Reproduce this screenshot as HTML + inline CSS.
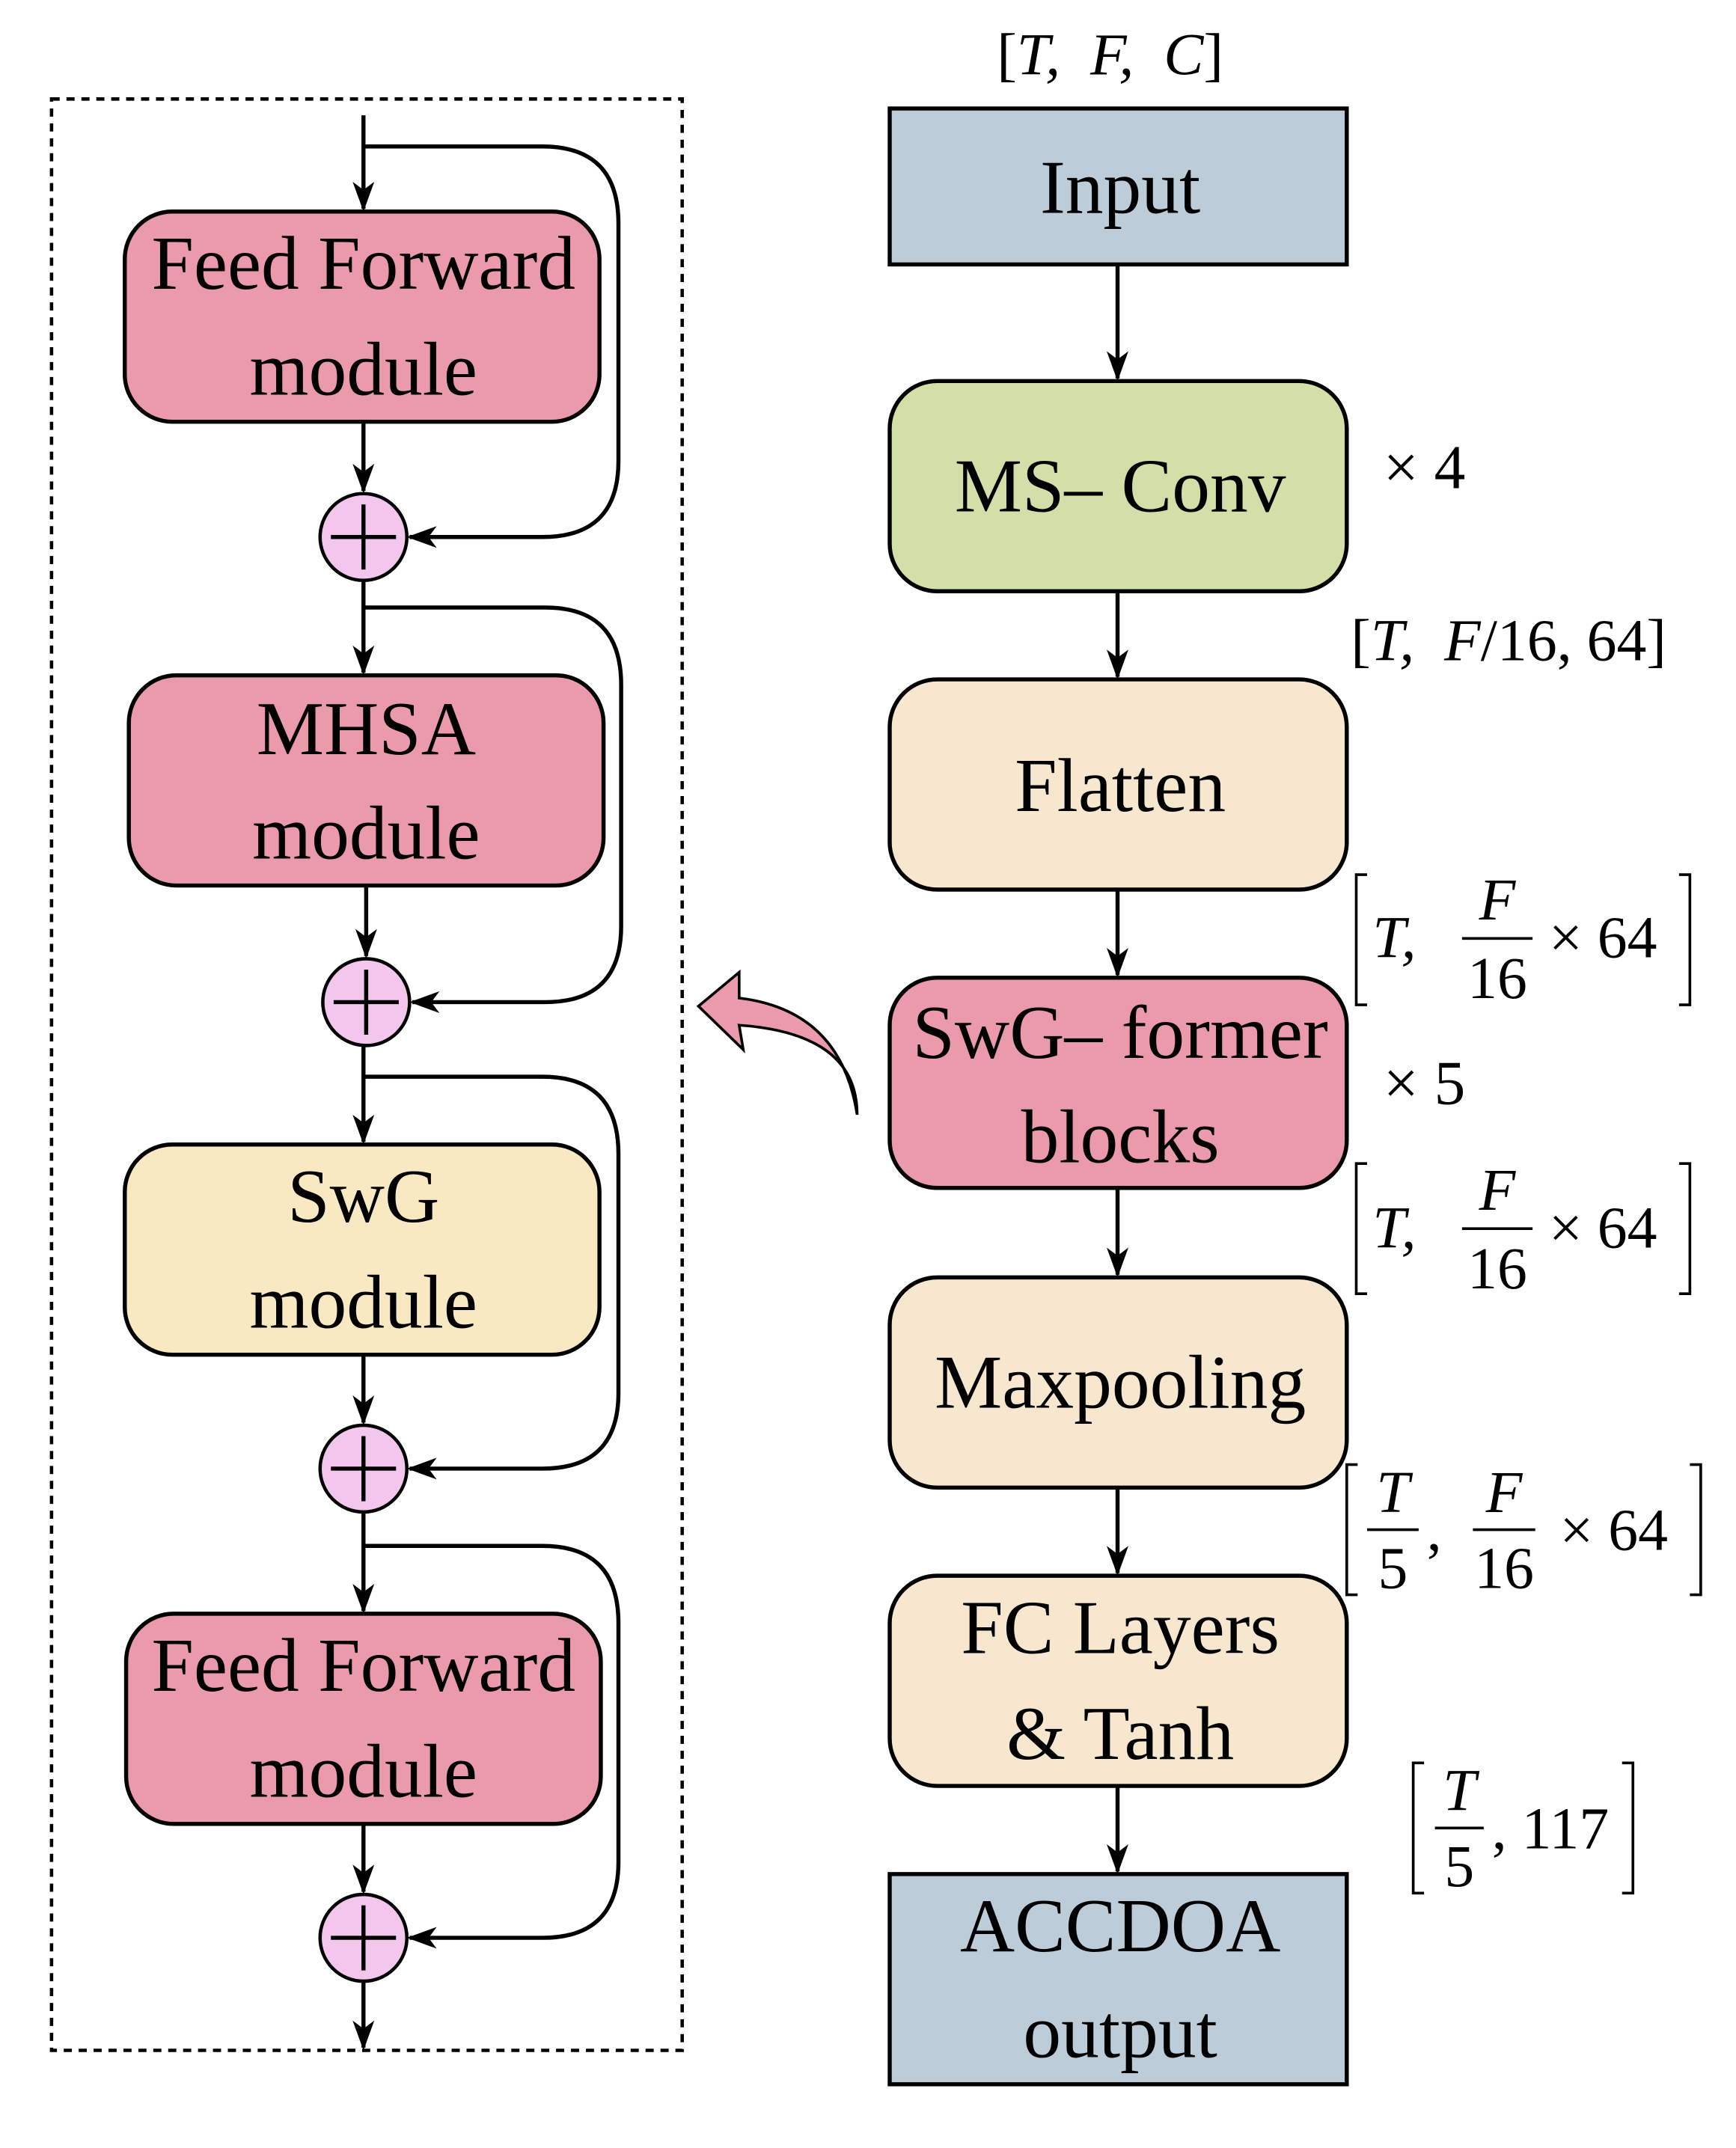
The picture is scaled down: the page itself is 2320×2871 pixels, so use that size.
<!DOCTYPE html>
<html><head><style>html,body{margin:0;padding:0;background:#fff}svg{display:block}</style></head>
<body>
<svg width="2320" height="2871" viewBox="0 0 1280 1584" xmlns="http://www.w3.org/2000/svg" font-family="Liberation Serif, serif">
<defs>
<marker id="a" markerWidth="22" markerHeight="16" refX="20" refY="8" orient="auto" markerUnits="userSpaceOnUse" viewBox="0 0 22 16">
<path d="M0,0 L22,8 L0,16 L6,8 Z" fill="#000"/></marker>
</defs>
<rect x="38" y="73" width="465" height="1439" fill="none" stroke="#000" stroke-width="2.5" stroke-dasharray="6,5"/>
<g stroke="#000" stroke-width="3">
<rect x="92" y="156" width="350" height="155" rx="35" fill="#eb9aab"/>
<rect x="95" y="498" width="350" height="155" rx="35" fill="#eb9aab"/>
<rect x="92" y="844" width="350" height="155" rx="35" fill="#f9e9c3"/>
<rect x="93" y="1190" width="350" height="155" rx="35" fill="#eb9aab"/>
<rect x="656" y="80" width="337" height="115" fill="#bccdd9"/>
<rect x="656" y="281" width="337" height="155" rx="35" fill="#d2dfa9"/>
<rect x="656" y="501" width="337" height="155" rx="35" fill="#f7e7cf"/>
<rect x="656" y="721" width="337" height="155" rx="35" fill="#eb9aab"/>
<rect x="656" y="942" width="337" height="155" rx="35" fill="#f7e7cf"/>
<rect x="656" y="1162" width="337" height="155" rx="35" fill="#f7e7cf"/>
<rect x="656" y="1382" width="337" height="155" fill="#bccdd9"/>
</g>
<g stroke="#000" stroke-width="2.5" fill="#f3c6ee">
<circle cx="268" cy="396" r="32"/><circle cx="270" cy="739" r="32"/>
<circle cx="268" cy="1083" r="32"/><circle cx="268" cy="1429" r="32"/>
</g>
<g stroke="#000" stroke-width="3" fill="none">
<path d="M244,396h48M268,372v48M246,739h48M270,715v48M244,1083h48M268,1059v48M244,1429h48M268,1405v48"/>
</g>
<g stroke="#000" stroke-width="3" fill="none" marker-end="url(#a)">
<path d="M268,85V154"/><path d="M268,311V362"/><path d="M268,428V496"/>
<path d="M270,653V705"/><path d="M268,771V842"/><path d="M268,999V1049"/>
<path d="M268,1115V1188"/><path d="M268,1345V1395"/><path d="M268,1461V1510"/>
<path d="M268,108H400Q456,108 456,165V340Q456,396 400,396H302"/>
<path d="M268,448H402Q458,448 458,505V683Q458,739 402,739H304"/>
<path d="M268,794H400Q456,794 456,851V1027Q456,1083 400,1083H302"/>
<path d="M268,1140H400Q456,1140 456,1197V1373Q456,1429 400,1429H302"/>
<path d="M824,195V279"/><path d="M824,436V499"/><path d="M824,656V719"/>
<path d="M824,876V940"/><path d="M824,1097V1160"/><path d="M824,1317V1380"/>
</g>
<path d="M632,822 Q632,762 545,756 L548,774 L515,742 L545,717 L545,736 Q620,745 632,822 Z" fill="#eb9aab" stroke="#000" stroke-width="2"/>
<g font-size="56" text-anchor="middle" fill="#000">
<text x="268" y="213">Feed Forward</text><text x="268" y="291">module</text>
<text x="270" y="556">MHSA</text><text x="270" y="633">module</text>
<text x="268" y="901">SwG</text><text x="268" y="979">module</text>
<text x="268" y="1247">Feed Forward</text><text x="268" y="1325">module</text>
<text x="826" y="157">Input</text>
<text x="826" y="377">MS– Conv</text>
<text x="826" y="598">Flatten</text>
<text x="826" y="780">SwG– former</text><text x="826" y="857">blocks</text>
<text x="826" y="1038">Maxpooling</text>
<text x="826" y="1219">FC Layers</text><text x="826" y="1297">&amp; Tanh</text>
<text x="826" y="1439">ACCDOA</text><text x="826" y="1517">output</text>
</g>
<g font-size="44" fill="#000">
<text x="735" y="55">[<tspan font-style="italic">T,&#160; F,&#160; C</tspan>]</text>
<text x="1020" y="360" font-size="46">× 4</text>
<text x="1020" y="814" font-size="46">× 5</text>
<text x="996" y="487">[<tspan font-style="italic">T,&#160; F</tspan>/16, 64]</text>
</g>
<g stroke="#000" stroke-width="2" fill="none">
<path d="M1008,645h-8v96h8M1238,645h8v96h-8"/>
<path d="M1008,858h-8v96h8M1238,858h8v96h-8"/>
<path d="M1001,1080h-8v96h8M1246,1080h8v96h-8"/>
<path d="M1050,1300h-8v96h8M1196,1300h8v96h-8"/>
<path d="M1078,692h52M1078,906h52M1008,1128h38M1086,1128h46M1058,1348h36"/>
</g>
<g font-size="44" fill="#000">
<text x="1012" y="706" font-style="italic">T,</text><text x="1104" y="678" text-anchor="middle" font-style="italic">F</text><text x="1104" y="736" text-anchor="middle">16</text><text x="1142" y="706">× 64</text>
<text x="1012" y="920" font-style="italic">T,</text><text x="1104" y="892" text-anchor="middle" font-style="italic">F</text><text x="1104" y="950" text-anchor="middle">16</text><text x="1142" y="920">× 64</text>
<text x="1027" y="1115" text-anchor="middle" font-style="italic">T</text><text x="1027" y="1171" text-anchor="middle">5</text><text x="1052" y="1143">,</text>
<text x="1109" y="1115" text-anchor="middle" font-style="italic">F</text><text x="1109" y="1171" text-anchor="middle">16</text><text x="1150" y="1143">× 64</text>
<text x="1076" y="1335" text-anchor="middle" font-style="italic">T</text><text x="1076" y="1391" text-anchor="middle">5</text><text x="1100" y="1363">, 117</text>
</g>
</svg>
</body></html>
